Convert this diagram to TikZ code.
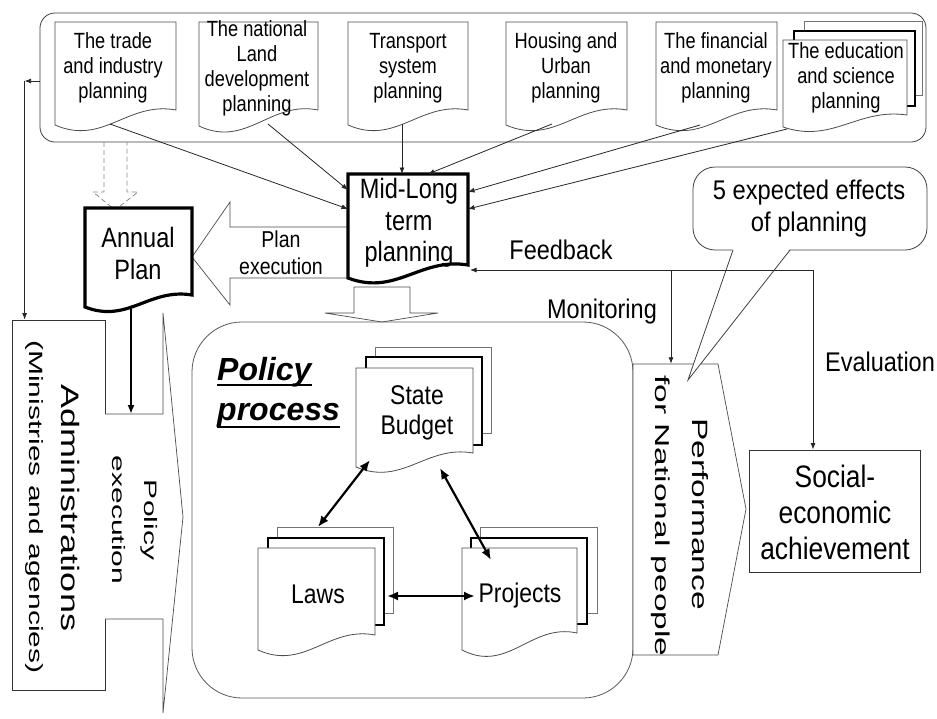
\documentclass[tikz,border=0pt]{standalone}
\usepackage{fontspec}
\setmainfont{Liberation Sans}
\usetikzlibrary{arrows.meta}

\newcommand\fs[2]{\fontsize{#1}{#2}\selectfont}
% document shape: style, name, x1, top, x2, right bottom, left bottom
\newcommand\docnode[7]{%
  \draw[#1] (#3,#7) -- (#3,#4) -- (#5,#4) -- (#5,#6)
    .. controls ({#3+0.6*(#5-#3)},{#6-0.6*(#7-#6)}) and ({#3+0.4*(#5-#3)},{#7+1.4*(#7-#6)}) .. (#3,#7) -- cycle;
  \node[inner sep=0pt, outer sep=0pt, minimum width={#5-#3}, minimum height={#6-#4}] (#2) at ({(#3+#5)/2},{(#4+#6)/2}) {};
}
% sheet lying behind a document
\newcommand\pagebehind[5]{\draw[#1] (#2,#3) rectangle (#4,#5);}

\begin{document}
\begin{tikzpicture}[x=1pt,y=-1pt,
  lab/.style={inner sep=0pt, align=center},
  docthin/.style={draw=black!70, line width=0.8pt, fill=white},
  docthick/.style={draw=black, line width=3.2pt, fill=white, line join=miter},
  pgback/.style={draw=black!55, line width=0.8pt, fill=white},
  pgmid/.style={draw=black, line width=1.3pt, fill=white},
  blk/.style={draw=black!70, line width=0.7pt, fill=white},
  arr/.style={-{Latex[length=6.5pt,width=5pt]}, line width=0.8pt, draw=black!85},
  arrboth/.style={{Latex[length=6.5pt,width=5pt]}-{Latex[length=6.5pt,width=5pt]}, line width=0.8pt, draw=black!85},
  darr/.style={{Latex[length=11pt,width=9pt]}-{Latex[length=11pt,width=9pt]}, line width=2.2pt},
  vtxt/.style={inner sep=0pt, rotate=-90}
]
\useasboundingbox (0,0) rectangle (937,718);
\fill[white] (0,0) rectangle (937,718);

% frame round the sector plans
\node[draw=black!75, line width=0.8pt, rounded corners=15pt, minimum width=886, minimum height=129, inner sep=0pt] (top) at (483,77.5) {};

% sector plans
\docnode{docthin}{d1}{55}{22}{176}{110}{125}
\docnode{docthin}{d2}{199}{22}{318}{110}{126}
\docnode{docthin}{d3}{348}{22}{468}{110}{125}
\docnode{docthin}{d4}{506}{22}{627}{110}{125}
\docnode{docthin}{d5}{656}{22}{777}{110}{125}
\pagebehind{pgback}{804}{21}{922}{95}
\pagebehind{pgmid}{794}{31}{915}{106}
\docnode{docthin}{d6}{783}{40}{907}{115}{127}

\node[lab, font=\fs{22}{25}, xscale=0.83] (t1) at (113,68) {The trade\\and industry\\planning};
\node[lab, font=\fs{22}{25}, xscale=0.83] (t2) at (257,68) {The national\\Land\\development\\planning};
\node[lab, font=\fs{22}{25}, xscale=0.83] (t3) at (408,68) {Transport\\system\\planning};
\node[lab, font=\fs{22}{25}, xscale=0.83] (t4) at (566,68) {Housing and\\Urban\\planning};
\node[lab, font=\fs{22}{25}, xscale=0.83] (t5) at (716,68) {The financial\\and monetary\\planning};
\node[lab, font=\fs{22}{25}, xscale=0.83] (t6) at (846,78) {The education\\and science\\planning};

% dashed block arrow to the annual plan
\draw[draw=black!45, dash pattern=on 5pt off 3pt, line width=0.8pt]
  (104,142) -- (104,192) -- (93,192) -- (115,210) -- (138,192) -- (127,192) -- (127,142);

% block arrow: plan execution
\draw[blk] (348,227) -- (230,227) -- (230,202) -- (192,257) -- (230,305) -- (230,278) -- (348,278);
\node[lab, font=\fs{23}{27}, xscale=0.85] (pe) at (281,253) {Plan\\execution};

% block arrow down to the policy process
\draw[blk] (354,287) -- (354,313) -- (325,313) -- (382,322) -- (438,313) -- (410,313) -- (410,287) -- cycle;

% policy process
\node[draw=black!65, line width=0.8pt, rounded corners=50pt, minimum width=441, minimum height=376, inner sep=0pt] (pp) at (412.5,510) {};
\node[anchor=base west, inner sep=0pt, font=\fs{32}{40}\bfseries\itshape] (pol) at (217,380) {Policy};
\node[anchor=base west, inner sep=0pt, font=\fs{32}{40}\bfseries\itshape] (proc) at (217,420) {process};
\draw[line width=1.8pt] ([yshift=-5pt]pol.base west) -- ([yshift=-5pt]pol.base east);
\draw[line width=1.8pt] ([yshift=-7pt]proc.base west) -- ([yshift=-7pt]proc.base east);

% state budget
\pagebehind{pgback}{375}{347}{491}{433}
\pagebehind{pgmid}{366}{357}{482}{445}
\docnode{docthin}{sb}{356}{368}{473}{453}{467}
\node[lab, font=\fs{27}{30}, xscale=0.85] (sbt) at (417,413) {State\\Budget};

% laws
\pagebehind{pgback}{277}{527}{393}{613}
\pagebehind{pgmid}{268}{538}{384}{625}
\docnode{docthin}{lw}{258}{548}{375}{635}{650}
\node[lab, anchor=base, font=\fs{27}{30}, xscale=0.85] (lwt) at (318,603) {Laws};

% projects
\pagebehind{pgback}{480}{527}{597}{613}
\pagebehind{pgmid}{471}{538}{587}{624}
\docnode{docthin}{pj}{462}{548}{577}{633}{650}
\node[lab, anchor=base, font=\fs{27}{30}, xscale=0.85] (pjt) at (520,602) {Projects};

\draw[darr] ([xshift=-44.5pt,yshift=-7pt]sb.south) -- ([xshift=1.5pt,yshift=21pt]lw.north);
\draw[darr] ([xshift=25.5pt,yshift=-15pt]sb.south) -- ([xshift=-28.5pt,yshift=-12pt]pj.north);
\draw[darr] ([xshift=12pt,yshift=-4.5pt]lw.east) -- ([xshift=13pt,yshift=-5.5pt]pj.west);

% mid-long term and annual plans
\docnode{docthick}{ml}{348}{174}{468}{265}{278}
\node[lab, font=\fs{28}{31.5}, xscale=0.84] (mlt) at (409,223) {Mid-Long\\term\\planning};
\docnode{docthick}{ap}{85}{208}{192}{295}{307}
\node[lab, font=\fs{28}{32}, xscale=0.84] (apt) at (138,253) {Annual\\Plan};

% sector plans feed the mid-long term plan
\draw[arr] ([xshift=-5.5pt,yshift=-14pt]d1.south) -- ([yshift=10.5pt]ml.west);
\draw[arr] ([xshift=9.5pt,yshift=-14pt]d2.south) -- ([yshift=29.5pt]ml.west);
\draw[arr] ([xshift=-6pt,yshift=-14pt]d3.south) -- ([xshift=-6pt]ml.north);
\draw[arr] ([xshift=-14.5pt,yshift=-14pt]d4.south) -- ([xshift=20pt]ml.north);
\draw[arr] ([xshift=-16.5pt,yshift=-15pt]d5.south) -- ([yshift=27.5pt]ml.east);
\draw[arr] ([xshift=-58pt,yshift=-14pt]d6.south) -- ([yshift=10.5pt]ml.east);

% administrations
\node[draw=black!80, line width=0.8pt, minimum width=93, minimum height=370, inner sep=0pt] (adm) at (58.5,505) {};
\node[vtxt, yscale=0.7, font=\fs{36}{40}] (admt) at (71,508) {Administrations};
\node[vtxt, yscale=0.64, font=\fs{30}{34}] (mint) at (34,507) {(Ministries and agencies)};

\coordinate (lc) at ([xshift=-15pt,yshift=-3.5pt]top.west);
\draw[arr] ([yshift=-3.5pt]top.west) -- (lc);
\draw[arr] (lc) -- (lc |- adm.north);

% block arrow: policy execution
\draw[blk] (105,414) -- (163,414) -- (163,313) -- (183,517) -- (163,713) -- (163,619) -- (105,619);
\node[vtxt, yscale=0.6, font=\fs{30}{34}] (polt) at (149.5,520) {Policy};
\node[vtxt, yscale=0.6, font=\fs{30}{34}] (exet) at (118.5,520) {execution};
\coordinate (peshaft) at (131,414);
\draw[line width=2.2pt, -{Latex[length=9pt,width=7pt]}] ([xshift=-7.5pt,yshift=-14pt]ap.south) -- (peshaft);

% performance for national people
\draw[blk] (633,364) -- (718,364) -- (746,509) -- (718,655) -- (633,655) -- cycle;
\node[inner sep=0pt, minimum width=113, minimum height=291] (perf) at (689.5,509.5) {};
\node[vtxt, yscale=0.66, font=\fs{33.5}{38}] (perft) at (700,514) {Performance};
\node[vtxt, yscale=0.6, font=\fs{33.5}{38}] (natt) at (661,516) {for National people};

% expected effects callout
\draw[draw=black!75, line width=0.8pt, fill=white, rounded corners=22pt] (693,167) rectangle (927,250);
\fill[white] (733,248.5) -- (688,380) -- (790,248.5) -- cycle;
\draw[draw=black!75, line width=0.8pt, line join=miter] (733,250) -- (688,380) -- (790,250);
\node[lab, font=\fs{27}{32}, xscale=0.88] (fx) at (809,209) {5 expected effects\\of planning};

% social-economic achievement
\node[draw=black!80, line width=1pt, minimum width=171, minimum height=122, inner sep=0pt] (soc) at (834.5,511) {};
\node[lab, font=\fs{31}{36}, xscale=0.85] (soct) at (835,512) {Social-\\economic\\achievement};

% feedback, monitoring and evaluation
\coordinate (fb) at ([xshift=2pt,yshift=-50.5pt]ml.east);
\draw[arrboth] (fb) -| ([xshift=-21.5pt]soc.north);
\coordinate (monx) at ([xshift=-18.5pt]perf.north);
\draw[arr] (monx |- fb) -- (monx);
\node[lab, font=\fs{27}{30}, xscale=0.87] (fbt) at (561,250) {Feedback};
\node[lab, font=\fs{27}{30}, xscale=0.87] (mont) at (602,312) {Monitoring};
\node[lab, font=\fs{27}{30}, xscale=0.87] (evt) at (880,362) {Evaluation};
\end{tikzpicture}
\end{document}
